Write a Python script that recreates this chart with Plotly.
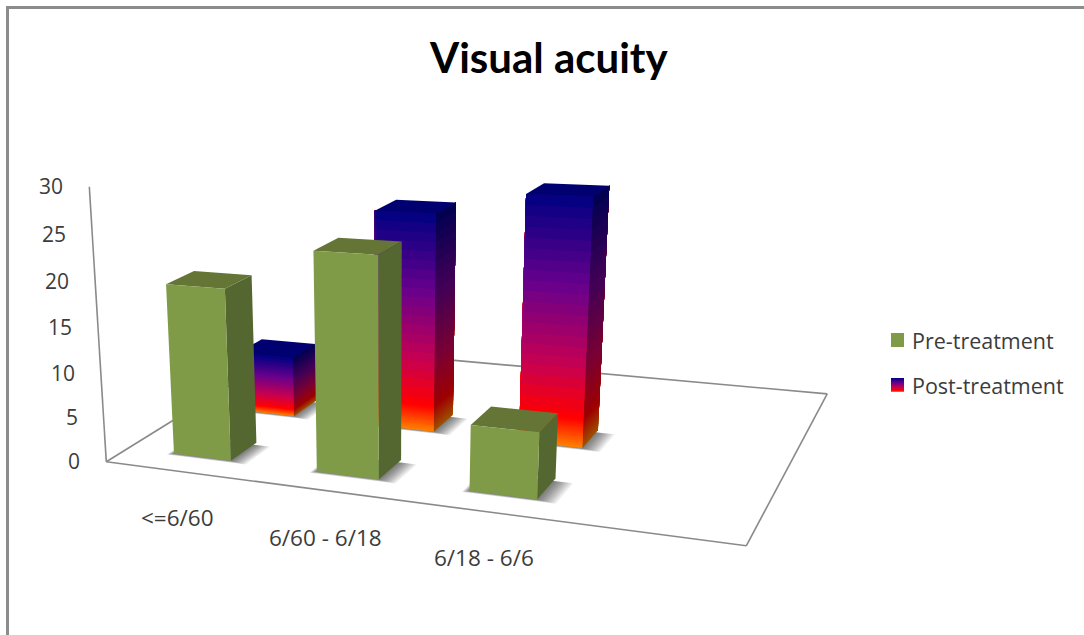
import numpy as np
import plotly.graph_objects as go

categories = ["<=6/60", "6/60 - 6/18", "6/18 - 6/6"]
pre_treatment = [19, 23.6, 7]
post_treatment = [7, 24.5, 27]
tick_values = [0, 5, 10, 15, 20, 25, 30]
series_names = ["Pre-treatment", "Post-treatment"]

W, H = 1084, 635
Z_MAX = 30
FLOOR_U, FLOOR_V = 3, 2
CAT_POS = [0.41, 1.17, 1.915]
SER_POS = [0.33, 1.0]
BAR_W, BAR_D = 0.31, 0.26

GREEN_FRONT, GREEN_SIDE, GREEN_TOP = "#7f9b48", "#556731", "#647536"
INK = "#3c3c3c"
FONT = "Open Sans"

# Perspective camera of the chart box: eye, yaw, pitch, roll, box aspect, focal length, principal point
EYE = np.array([1.872, -5.831, 1.487])
YAW, PITCH, ROLL = 0.507, 0.358, -0.050
ASPECT = np.array([2.244, 1.679, 1.0])
FOCAL, CX, CY = 1686.243, 161.822, 507.729

fw = np.array([-np.sin(YAW)*np.cos(PITCH), np.cos(YAW)*np.cos(PITCH), -np.sin(PITCH)])
r0 = np.array([np.cos(YAW), np.sin(YAW), 0.0])
u0 = np.cross(r0, fw)
RIGHT = np.cos(ROLL)*r0 + np.sin(ROLL)*u0
UP = -np.sin(ROLL)*r0 + np.cos(ROLL)*u0


def project(cat, ser, val):
    """Map category position, series position and value to plot coordinates."""
    s = (np.array([cat/FLOOR_U, ser/FLOOR_V, val/Z_MAX]) - 0.5)*ASPECT
    d = s - EYE
    return float(CX + FOCAL*(RIGHT @ d)/(fw @ d)), float(CY - FOCAL*(UP @ d)/(fw @ d))


def poly(points, color):
    xy = [project(*p) for p in points]
    xs = [a for a, _ in xy] + [xy[0][0]]
    ys = [b for _, b in xy] + [xy[0][1]]
    return go.Scatter(x=xs, y=ys, mode="lines", line=dict(width=0), fill="toself",
                      fillcolor=color, hoverinfo="skip", showlegend=False)


def scale(c, k):
    return "rgb(%d,%d,%d)" % tuple(round(v*k) for v in c)


GRAD = [(0, (0, 0, 130)), (.35, (105, 0, 140)), (.67, (200, 0, 80)), (.88, (255, 0, 0)), (1, (255, 130, 0))]


def grad_color(t):
    for (a, ca), (b, cb) in zip(GRAD, GRAD[1:]):
        if t <= b:
            m = (t-a)/(b-a)
            return tuple(ca[i] + (cb[i]-ca[i])*m for i in range(3))
    return GRAD[-1][1]


def shadow(cat, ser):
    out = []
    for grow in np.arange(0.09, 0, -0.01):
        c0, c1 = cat - BAR_W/2 - grow*0.3, cat + BAR_W/2 + grow
        s0, s1 = ser - BAR_D/2 - grow*0.25, ser + BAR_D/2 - 0.03
        out.append(poly([(c0, s0, 0), (c1, s0, 0), (c1, s1, 0), (c0, s1, 0)], "rgba(0,0,0,0.07)"))
    return out


def solid_bar(cat, ser, val):
    c0, c1, s0, s1 = cat-BAR_W/2, cat+BAR_W/2, ser-BAR_D/2, ser+BAR_D/2
    return [
        poly([(c1, s0, 0), (c1, s1, 0), (c1, s1, val), (c1, s0, val)], GREEN_SIDE),
        poly([(c0, s0, val), (c1, s0, val), (c1, s1, val), (c0, s1, val)], GREEN_TOP),
        poly([(c0, s0, 0), (c1, s0, 0), (c1, s0, val), (c0, s0, val)], GREEN_FRONT),
    ]


# Band edges down a bar, measured from its top; finer where the colours change fastest
BANDS = np.concatenate([np.linspace(0, 0.84, 21), np.linspace(0.85, 1, 16)])


def gradient_bar(cat, ser, val):
    c0, c1, s0, s1 = cat-BAR_W/2, cat+BAR_W/2, ser-BAR_D/2, ser+BAR_D/2
    out = []
    # Each band runs from its lower edge up to the bar's top, so the next one leaves no seam
    for k in range(len(BANDS)-2, -1, -1):
        t = (BANDS[k]+BANDS[k+1])/2
        lo = val*(1-BANDS[k+1])
        out.append(poly([(c1, s0, lo), (c1, s1, lo), (c1, s1, val), (c1, s0, val)], scale(grad_color(t), 0.62)))
        out.append(poly([(c0, s0, lo), (c1, s0, lo), (c1, s0, val), (c0, s0, val)], scale(grad_color(t), 1)))
    out.append(poly([(c0, s0, val), (c1, s0, val), (c1, s1, val), (c0, s1, val)], "#000070"))
    return out


def edge(p, q):
    (x0, y0), (x1, y1) = project(*p), project(*q)
    return go.Scatter(x=[x0, x1], y=[y0, y1], mode="lines", line=dict(color="#8a8a8a", width=1.6),
                      hoverinfo="skip", showlegend=False)


traces = [edge((0, 0, 0), (FLOOR_U, 0, 0)), edge((FLOOR_U, 0, 0), (FLOOR_U, FLOOR_V, 0)),
          edge((FLOOR_U, FLOOR_V, 0), (0, FLOOR_V, 0)), edge((0, FLOOR_V, 0), (0, 0, 0)),
          edge((0, 0, 0), (0, 0, Z_MAX))]
for pos, v in zip(CAT_POS, post_treatment):
    traces += shadow(pos, SER_POS[1]) + gradient_bar(pos, SER_POS[1], v)
for pos, v in zip(CAT_POS, pre_treatment):
    traces += shadow(pos, SER_POS[0]) + solid_bar(pos, SER_POS[0], v)

fig = go.Figure(traces)

notes = []
for z in tick_values:
    x, y = project(0, 0, z)
    notes.append(dict(x=x-24, y=y-1, xanchor="right", text=str(z), showarrow=False,
                      font=dict(size=21, color=INK, family=FONT)))
for pos, c in zip(CAT_POS, categories):
    x, y = project(pos, 0, 0)
    notes.append(dict(x=x-3, y=y+46, text=c, showarrow=False, font=dict(size=22.5, color=INK, family=FONT)))
notes.append(dict(x=548.5, y=57, text="<b>Visual acuity</b>", showarrow=False,
                  font=dict(size=42, color="#000000", family="Lato")))
notes.append(dict(x=910, y=340, xanchor="left", text=series_names[0], showarrow=False,
                  font=dict(size=21.5, color=INK, family=FONT)))
notes.append(dict(x=910, y=385, xanchor="left", text=series_names[1], showarrow=False,
                  font=dict(size=21.5, color=INK, family=FONT)))


def px_rect(x0, y0, x1, y1, color):
    return dict(type="rect", x0=x0, y0=y0, x1=x1, y1=y1, fillcolor=color, line=dict(width=0), layer="above")


shapes = [dict(type="line", x0=7.5, x1=7.5, y0=6, y1=H, line=dict(color="#8c8c8c", width=3)),
          dict(type="line", x0=6, x1=W, y0=7.5, y1=7.5, line=dict(color="#8c8c8c", width=3)),
          px_rect(891, 333, 904, 347, GREEN_FRONT)]
for k in range(14):
    shapes.append(px_rect(891, 378+k, 904, 379+k, scale(grad_color((k+0.5)/14), 1)))

fig.update_layout(width=W, height=H, margin=dict(l=0, r=0, t=0, b=0), plot_bgcolor="white", paper_bgcolor="white",
                  showlegend=False, annotations=notes, shapes=shapes,
                  xaxis=dict(range=[0, W], visible=False, fixedrange=True),
                  yaxis=dict(range=[H, 0], visible=False, fixedrange=True))
fig.write_html("out.html")
